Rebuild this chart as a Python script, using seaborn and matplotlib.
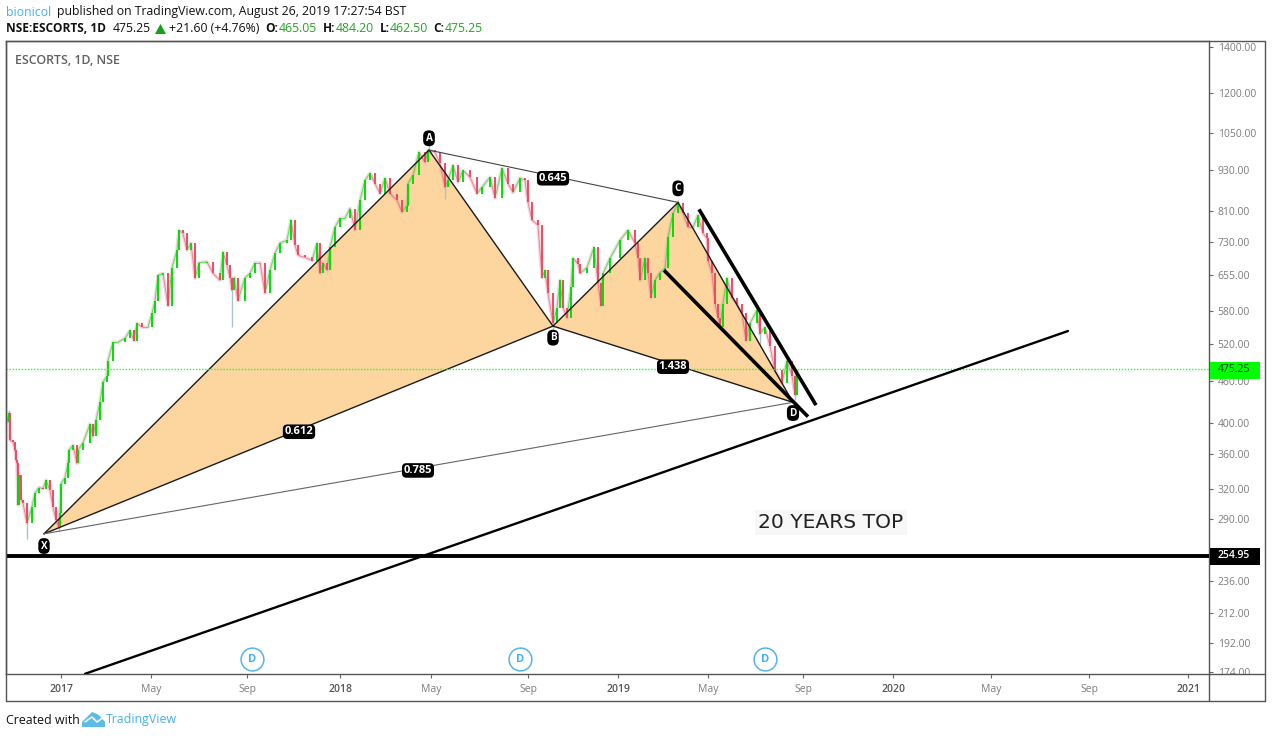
import numpy as np
import pandas as pd
import matplotlib
matplotlib.use("Agg")
import matplotlib.pyplot as plt
from matplotlib.collections import LineCollection
from matplotlib.lines import Line2D
from matplotlib.patches import Polygon, Rectangle
from matplotlib.transforms import Bbox
import seaborn as sns

# ---- data ----
sessions = [-54,-52,-51,-48,-46,-45,-44,-43,-42,-40,-38,-34,-29,-26,-22,-18,-15,-11,-8,-5,-2,-1,0,4,7,8,12,16,17,22,29,32,35,39,42,46,47,52,57,64,69,73,76,81,87,91,94,97,102,107,111,116,118,122,126,130,134,138,146,152,159,162,166,169,171,173,177,184,189,194,199,204,209,214,219,226,230,234,237,244,251,256,259,262,266,269,274,279,284,289,294,299,304,309,314,319,324,329,336,341,346,347,352,358,364,367,374,379,384,387,392,397,402,409,416,421,429,434,441,447,452,459,464,467,471,477,481,484,487,492,496,499,502,506,510,512,517,519,526,533,537,540,542,549,559,567,574,577,579,584,587,590,594,599,604,607,612,617,622,627,632,637,642,646,647,651,654,657,659,662,666,671,676,681,685,689,696,699,704,709,714,721,726,731,734,736]
closes = [401,413,377,375,365,353,349,304,336,309,306,286,302,316,322,321,330,319,302,289,282,296,326,333,349,365,371,349,365,374,398,382,403,428,458,467,492,523,523,530,544,526,557,550,550,576,601,654,658,591,671,711,760,752,711,728,647,682,684,658,643,706,676,649,622,649,601,649,658,682,682,616,665,704,728,735,786,723,699,694,687,728,658,682,665,718,768,791,791,817,760,840,898,919,888,859,904,859,840,807,825,888,913,986,953,993,986,950,877,898,944,892,928,907,859,877,907,846,934,888,862,904,898,834,786,773,649,665,616,557,587,643,587,568,628,692,680,658,671,718,637,591,658,692,735,760,728,692,643,692,658,607,643,660,669,742,804,832,804,768,768,799,752,740,687,658,595,568,550,595,647,607,595,576,526,557,582,538,550,516,476,457,492,468,439,475.25]

wick_sessions = [-52,-34,-2,171,368,384,492,617,699,734]
wick_lows = [401,271,279,550,986,843,544,804,520,432]
wick_highs = [417,306,296,649,1015,950,590,840,560,470]

pattern_names = ["X","A","B","C","D"]
pattern_sessions = [-17,368,492,617,732]
pattern_prices = [276,993,552,834,428]
letter_prices = [265,1033,531,874,413]

ratio_labels = ["0.612","0.785","0.645","1.438"]
ratio_sessions = [238,357,492,612]
ratio_prices = [388,341,904,482]

wedge_upper_s = [638,755]; wedge_upper_p = [815,424]
wedge_lower_s = [603,747]; wedge_lower_p = [665,408]
trend_s = [24,1007]; trend_p = [173,543]

last_price = 475.25
last_line_level = 478.5   # where the dotted line sits on the reference's scale
support = 254.95
support_line_level = 255.9
div_sessions = [191,459,704]
div_price = 181.7

price_ticks = [1400,1200,1050,930,810,730,655,580,520,460,400,360,320,290,236,212,192,174]
time_ticks = [0,90,186,279,370,467,557,647,742,832,930,1028,1127]
time_labels = ["2017","May","Sep","2018","May","Sep","2019","May","Sep","2020","May","Sep","2021"]

# ---- layout ----
W, H = 1272, 738
sns.set_theme(style="white")
plt.rcParams['font.family'] = ['Open Sans', 'DejaVu Sans']
fig = plt.figure(figsize=(W/100, H/100), dpi=100, facecolor="white")
ax = fig.add_axes([6/W, 1-674/H, 1203/W, 633/H])
ax.set_xscale("linear"); ax.set_yscale("log")
ax.set_xlim(-55, 1148)
ax.set_ylim(172.9, 1429)

FILL = "#FDD59E"
ps, pp = pattern_sessions, pattern_prices
ax.fill([ps[0],ps[1],ps[2]], [pp[0],pp[1],pp[2]], color=FILL, lw=0, zorder=1)
ax.fill([ps[2],ps[3],ps[4]], [pp[2],pp[3],pp[4]], color=FILL, lw=0, zorder=1)

# price path
df = pd.DataFrame({"session": sessions, "close": closes})
sns.lineplot(data=df, x="session", y="close", sort=False, estimator=None, errorbar=None,
             color="#d9a9b8", lw=2.6, alpha=0.42, ax=ax, zorder=2)
ax.vlines(wick_sessions, wick_lows, wick_highs, color="#a9c4cc", lw=1.0, zorder=2)
GREEN, RED = "#00e000", "#ef4a62"
segs, cols = [], []
for i in range(1, len(sessions)):
    segs.append([(sessions[i-1], closes[i-1]), (sessions[i], closes[i])])
    cols.append(GREEN if closes[i] >= closes[i-1] else RED)
ax.add_collection(LineCollection(segs, colors=cols, linewidths=0.7, alpha=0.6, zorder=2.4))
ax.vlines(sessions[1:], closes[:-1], closes[1:], colors=cols, lw=1.4, zorder=2.5)

# pattern lines
BL = "#1a1a1a"
for a, b, c, w in [(0,1,BL,1.0),(1,2,BL,1.0),(2,3,BL,1.0),(3,4,BL,1.0),(0,2,BL,1.0),(2,4,BL,1.0),
                   (1,3,"#444444",0.8),(0,4,"#666666",0.8)]:
    ax.plot([ps[a],ps[b]], [pp[a],pp[b]], color=c, lw=w, zorder=3, solid_capstyle="round")

ax.axhline(last_line_level, color="#22ff22", lw=1.0, ls=(0,(1,1.2)), zorder=3.2)
ax.plot(wedge_upper_s, wedge_upper_p, color="black", lw=2.6, zorder=4, solid_capstyle="butt")
ax.plot(wedge_lower_s, wedge_lower_p, color="black", lw=2.6, zorder=4, solid_capstyle="butt")
ax.plot(trend_s, trend_p, color="black", lw=1.7, zorder=4)
ax.axhline(support_line_level, color="black", lw=2.8, zorder=4)

for n, s, p in zip(pattern_names, pattern_sessions, letter_prices):
    ax.text(s, p, n, color="white", fontsize=7.2, fontweight="bold", ha="center", va="center", zorder=6,
            bbox=dict(boxstyle="round,pad=0.24,rounding_size=0.55", fc="black", ec="none"))
for n, s, p in zip(ratio_labels, ratio_sessions, ratio_prices):
    ax.text(s, p, n, color="white", fontsize=8, fontweight="bold", ha="center", va="center", zorder=6,
            bbox=dict(boxstyle="round,pad=0.16,rounding_size=0.4", fc="black", ec="none"))

# dividends
sns.scatterplot(x=div_sessions, y=[div_price]*3, s=270, facecolor="white", edgecolor="#55b4f0",
                linewidth=1.1, ax=ax, zorder=5, legend=False)
for s in div_sessions:
    ax.text(s, div_price, "D", color="#46aef0", fontsize=8, fontweight="bold", ha="center", va="center", zorder=6)

def ptext(x, y, s, **kw):
    kw.setdefault("va", "center")
    return fig.text(x/W, 1-y/H, s, **kw)

ptext(831, 522.5, "20 YEARS TOP", fontsize=14.6, color="#222222", ha="center", family="DejaVu Sans",
      bbox=dict(fc="#f7f7f7", ec="none", pad=2.5), zorder=6)

# axes styling
for sp in ax.spines.values():
    sp.set_color("#555555"); sp.set_linewidth(1.0)
ax.set_xlabel(""); ax.set_ylabel("")
ax.yaxis.tick_right()
ax.minorticks_off()
ax.set_yticks(price_ticks + [support])
ax.set_yticklabels([f"{p:.2f}" for p in price_ticks] + [""])
ax.tick_params(axis="y", which="major", right=True, left=False, length=3.2, width=0.8, color="#666666",
               labelsize=7.5, labelcolor="#7d7d7d", pad=3)
ax.yaxis.set_minor_locator(matplotlib.ticker.NullLocator())
ax.set_xticks(time_ticks)
ax.set_xticklabels(time_labels)
ax.tick_params(axis="x", bottom=True, length=3, width=0.8, color="#666666",
               labelsize=7.5, labelcolor="#7d7d7d", pad=4)
for lab, txt in zip(ax.get_xticklabels(), time_labels):
    if txt.isdigit():
        lab.set_color("#555555"); lab.set_fontweight("semibold")
clipbox = Bbox([[1210, H-674], [1264, H-41]])
for lab in ax.get_yticklabels():
    lab.set_clip_box(clipbox); lab.set_clip_on(True)

# outer frame
F = fig.transFigure
def pline(x0, y0, x1, y1, c="#555555", lw=1.0):
    fig.add_artist(Line2D([x0/W, x1/W], [1-y0/H, 1-y1/H], color=c, lw=lw, transform=F))
pline(6, 41, 1265, 41); pline(1265, 41, 1265, 701); pline(6, 701, 1265, 701)
pline(6, 41, 6, 701); pline(1209, 674, 1209, 701); pline(1209, 674, 1265, 674)

def box(x, y, w, h, c):
    fig.add_artist(Rectangle((x/W, 1-(y+h)/H), w/W, h/H, transform=F, fc=c, ec="none", zorder=8))
box(1209.5, 362, 50, 16.5, "#00ff00")
ptext(1218, 370, "475.25", fontsize=7.5, color="#1a3a1a", zorder=9)
box(1209.5, 548, 50, 17, "black")
ptext(1218, 556, "254.95", fontsize=7.5, color="white", fontweight="semibold", zorder=9)

# header
ptext(15, 60, "ESCORTS, 1D, NSE", fontsize=8.9, color="#606060", fontweight="semibold")
DK = "#111111"; GR = "#20a820"; BLU = "#45b1e8"
ptext(6, 12, "bionicol", fontsize=8.8, color=BLU, fontweight="medium")
ptext(57, 12, "published on TradingView.com, August 26, 2019 17:27:54 BST", fontsize=8.8, color=DK)
ptext(6, 29, "NSE:ESCORTS, 1D", fontsize=8.6, color=DK, fontweight="bold")
ptext(113, 29, "475.25", fontsize=8.8, color=DK)
fig.add_artist(Polygon([(155/W,1-34/H),(166/W,1-34/H),(160.5/W,1-24/H)], closed=True, transform=F, fc="#15a015", ec="none"))
ptext(169, 29, "+21.60 (+4.76%)", fontsize=8.8, color=DK)
for x, s in [(265,"O:"),(323,"H:"),(380,"L:"),(433,"C:")]:
    ptext(x, 29, s, fontsize=8.6, color=DK, fontweight="bold")
for x, s in [(279,"465.05"),(336,"484.20"),(390,"462.50"),(445,"475.25")]:
    ptext(x, 29, s, fontsize=8.8, color=GR)

# footer
ptext(6, 720, "Created with", fontsize=8.9, color=DK)
ptext(106, 720, "TradingView", fontsize=8.9, color=BLU)
logo = [(82,727),(82,722),(88,716),(92,712),(97,714),(100,716),(105,722),(105,727)]
fig.add_artist(Polygon([(x/W,1-y/H) for x,y in logo], closed=True, transform=F, fc="#5bbce6", ec="none"))
fig.add_artist(Line2D([85/W,92/W,97/W,104/W],[1-722/H,1-717/H,1-722/H,1-717/H], color="white", lw=1.1, transform=F))

fig.savefig("out.png", dpi=100, facecolor="white")
